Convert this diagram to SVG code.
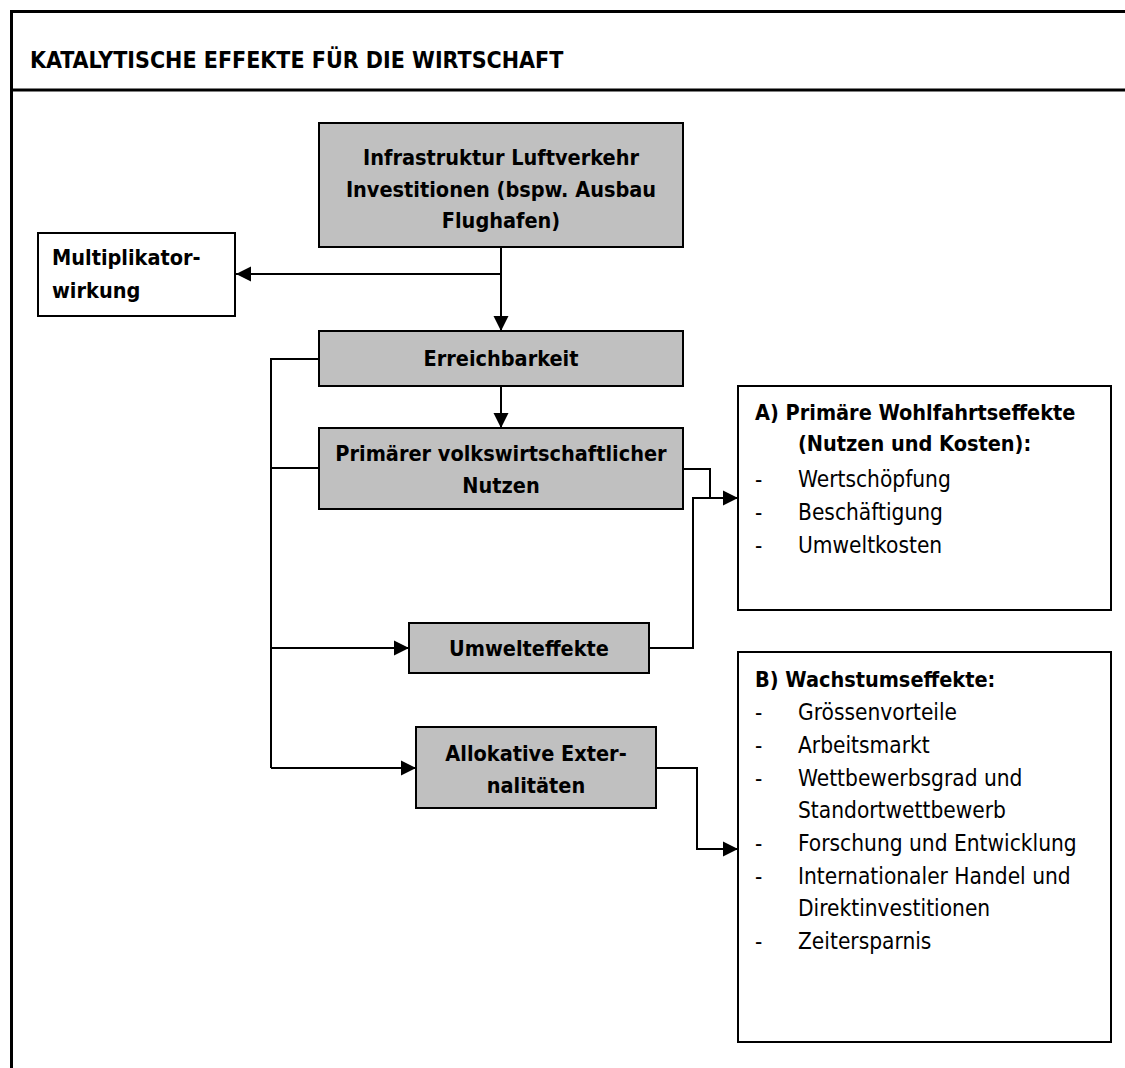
<svg xmlns="http://www.w3.org/2000/svg" width="1125" height="1068" viewBox="0 0 1125 1068">
<style>
  text { font-family: "DejaVu Sans Condensed", "DejaVu Sans", sans-serif; font-stretch: condensed; fill: #000; }
  .b { font-weight: bold; font-size: 21.5px; }
  .t { font-weight: bold; font-size: 23px; }
  .r { font-size: 22.5px; }
  .c { text-anchor: middle; }
  .gray { fill: #c0c0c0; stroke: #000; stroke-width: 2; }
  .white { fill: #fff; stroke: #000; stroke-width: 2; }
  .conn { fill: none; stroke: #000; stroke-width: 2; }
</style>
<defs>
  <marker id="arr" markerUnits="userSpaceOnUse" markerWidth="16" markerHeight="16" viewBox="0 0 16 16" refX="15" refY="8" orient="auto">
    <path d="M0,0.5 L15,8 L0,15.5 Z" fill="#000"/>
  </marker>
</defs>
<rect width="1125" height="1068" fill="#fff"/>
<g id="frame">
  <rect x="11.5" y="11.5" width="1300" height="1300" fill="none" stroke="#000" stroke-width="3"/>
  <line x1="11" y1="90" x2="1125" y2="90" stroke="#000" stroke-width="3"/>
  <text class="t" x="30" y="68">KATALYTISCHE EFFEKTE FÜR DIE WIRTSCHAFT</text>
</g>
<g id="connectors">
  <path class="conn" d="M501,247 V331" marker-end="url(#arr)"/>
  <path class="conn" d="M501,274 H236" marker-end="url(#arr)"/>
  <path class="conn" d="M501,386 V428" marker-end="url(#arr)"/>
  <path class="conn" d="M319,359 H271 V768"/>
  <path class="conn" d="M271,468 H319"/>
  <path class="conn" d="M271,648 H409" marker-end="url(#arr)"/>
  <path class="conn" d="M271,768 H416" marker-end="url(#arr)"/>
  <path class="conn" d="M683,469 H710 V498"/>
  <path class="conn" d="M649,648 H693 V498 H738" marker-end="url(#arr)"/>
  <path class="conn" d="M656,768 H697 V849 H738" marker-end="url(#arr)"/>
</g>
<g id="node-infrastruktur">
  <rect class="gray" x="319" y="123" width="364" height="124"/>
  <text class="b c" x="501" y="165">Infrastruktur Luftverkehr</text>
  <text class="b c" x="501" y="197">Investitionen (bspw. Ausbau</text>
  <text class="b c" x="501" y="228">Flughafen)</text>
</g>
<g id="node-multiplikator">
  <rect class="white" x="38" y="233" width="197" height="83"/>
  <text class="b" x="52" y="265">Multiplikator-</text>
  <text class="b" x="52" y="298">wirkung</text>
</g>
<g id="node-erreichbarkeit">
  <rect class="gray" x="319" y="331" width="364" height="55"/>
  <text class="b c" x="501" y="366">Erreichbarkeit</text>
</g>
<g id="node-primaer">
  <rect class="gray" x="319" y="428" width="364" height="81"/>
  <text class="b c" x="501" y="461">Primärer volkswirtschaftlicher</text>
  <text class="b c" x="501" y="493">Nutzen</text>
</g>
<g id="node-umwelteffekte">
  <rect class="gray" x="409" y="623" width="240" height="50"/>
  <text class="b c" x="529" y="656">Umwelteffekte</text>
</g>
<g id="node-allokative">
  <rect class="gray" x="416" y="727" width="240" height="81"/>
  <text class="b c" x="536" y="761">Allokative Exter-</text>
  <text class="b c" x="536" y="793">nalitäten</text>
</g>
<g id="node-a">
  <rect class="white" x="738" y="386" width="373" height="224"/>
  <text class="b" x="755" y="420">A) Primäre Wohlfahrtseffekte</text>
  <text class="b" x="798" y="451">(Nutzen und Kosten):</text>
  <text class="r" x="755" y="487">-</text><text class="r" x="798" y="487">Wertschöpfung</text>
  <text class="r" x="755" y="520">-</text><text class="r" x="798" y="520">Beschäftigung</text>
  <text class="r" x="755" y="553">-</text><text class="r" x="798" y="553">Umweltkosten</text>
</g>
<g id="node-b">
  <rect class="white" x="738" y="652" width="373" height="390"/>
  <text class="b" x="755" y="687">B) Wachstumseffekte:</text>
  <text class="r" x="755" y="720">-</text><text class="r" x="798" y="720">Grössenvorteile</text>
  <text class="r" x="755" y="753">-</text><text class="r" x="798" y="753">Arbeitsmarkt</text>
  <text class="r" x="755" y="786">-</text><text class="r" x="798" y="786">Wettbewerbsgrad und</text>
  <text class="r" x="798" y="818">Standortwettbewerb</text>
  <text class="r" x="755" y="851">-</text><text class="r" x="798" y="851">Forschung und Entwicklung</text>
  <text class="r" x="755" y="884">-</text><text class="r" x="798" y="884">Internationaler Handel und</text>
  <text class="r" x="798" y="916">Direktinvestitionen</text>
  <text class="r" x="755" y="949">-</text><text class="r" x="798" y="949">Zeitersparnis</text>
</g>
</svg>
